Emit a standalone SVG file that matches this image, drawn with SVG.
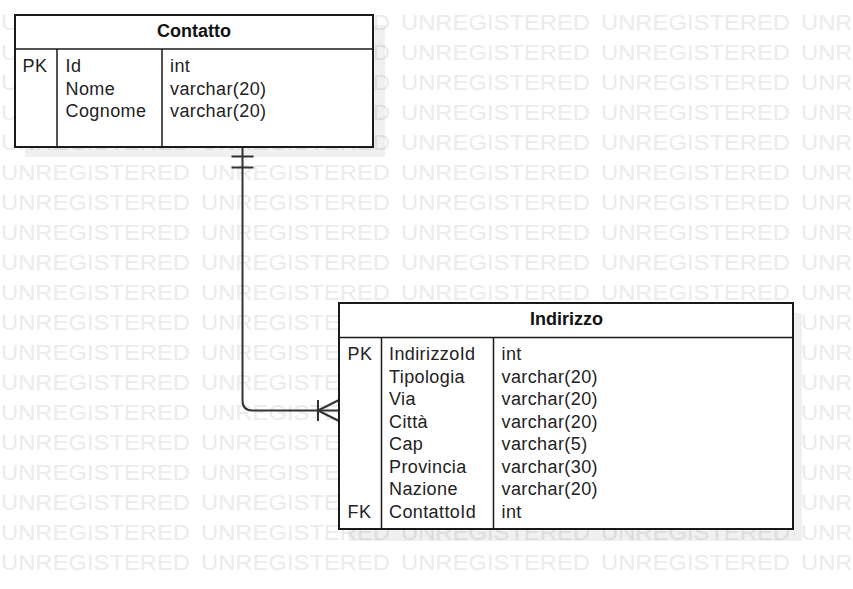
<svg xmlns="http://www.w3.org/2000/svg" xmlns:xlink="http://www.w3.org/1999/xlink" width="853" height="589" viewBox="0 0 853 589">
<style>
.wm{font-family:"Liberation Sans",Arial,sans-serif;font-size:22px;fill:#ebebeb}
.box{fill:#fff;stroke:#1a1a1a;stroke-width:2}
.shadow{fill:#000;fill-opacity:0.06}
.sep{stroke:#1a1a1a;stroke-width:1.5;fill:none}
.title{font-family:"Liberation Sans",Arial,sans-serif;font-size:18px;font-weight:bold;fill:#111;text-anchor:middle}
.t{font-family:"Liberation Sans",Arial,sans-serif;font-size:18px;fill:#222;letter-spacing:0.4px}
.conn{stroke:#333;stroke-width:2;fill:none}
</style>
<defs>
<g id="wmrow">
<text class="wm" x="1" y="29.5" textLength="189" lengthAdjust="spacingAndGlyphs">UNREGISTERED</text>
<text class="wm" x="201" y="29.5" textLength="189" lengthAdjust="spacingAndGlyphs">UNREGISTERED</text>
<text class="wm" x="401" y="29.5" textLength="189" lengthAdjust="spacingAndGlyphs">UNREGISTERED</text>
<text class="wm" x="601" y="29.5" textLength="189" lengthAdjust="spacingAndGlyphs">UNREGISTERED</text>
<text class="wm" x="801" y="29.5" textLength="189" lengthAdjust="spacingAndGlyphs">UNREGISTERED</text>
</g>
</defs>
<rect width="853" height="589" fill="#fff"/>
<g id="watermark">
<use xlink:href="#wmrow" y="0"/>
<use xlink:href="#wmrow" y="30"/>
<use xlink:href="#wmrow" y="60"/>
<use xlink:href="#wmrow" y="90"/>
<use xlink:href="#wmrow" y="120"/>
<use xlink:href="#wmrow" y="150"/>
<use xlink:href="#wmrow" y="180"/>
<use xlink:href="#wmrow" y="210"/>
<use xlink:href="#wmrow" y="240"/>
<use xlink:href="#wmrow" y="270"/>
<use xlink:href="#wmrow" y="300"/>
<use xlink:href="#wmrow" y="330"/>
<use xlink:href="#wmrow" y="360"/>
<use xlink:href="#wmrow" y="390"/>
<use xlink:href="#wmrow" y="420"/>
<use xlink:href="#wmrow" y="450"/>
<use xlink:href="#wmrow" y="480"/>
<use xlink:href="#wmrow" y="510"/>
<use xlink:href="#wmrow" y="540"/>
</g>
<g id="connectors">
<path class="conn" d="M242.5,147 V400.5 Q242.5,410.5 252.5,410.5 H339"/>
<path class="conn" d="M231.5,156.5 H253.5 M231.5,167.5 H253.5"/>
<path class="conn" d="M318,400 V421 M318,410.5 L339,400 M318,410.5 L339,421"/>
</g>
<g id="node-contatto">
<rect class="shadow" x="25" y="25" width="360" height="132"/>
<rect class="box" x="15" y="15" width="358" height="132"/>
<path class="sep" d="M15,49 H373 M57,49 V147 M162,49 V147"/>
<text class="title" x="194" y="36.5">Contatto</text>
<text class="t" x="22.5" y="72.3">PK</text>
<text class="t" x="65.5" y="72.3">Id</text>
<text class="t" x="65.5" y="94.8">Nome</text>
<text class="t" x="65.5" y="117.3">Cognome</text>
<text class="t" x="170" y="72.3">int</text>
<text class="t" x="170" y="94.8">varchar(20)</text>
<text class="t" x="170" y="117.3">varchar(20)</text>
</g>
<g id="node-indirizzo">
<rect class="shadow" x="348" y="313" width="454" height="228"/>
<rect class="box" x="339" y="303" width="454" height="226"/>
<path class="sep" d="M339,337.5 H793 M381.5,337.5 V529 M493.5,337.5 V529"/>
<text class="title" x="566.5" y="324.5">Indirizzo</text>
<text class="t" x="347.5" y="360">PK</text>
<text class="t" x="347.5" y="517.5">FK</text>
<text class="t" x="389" y="360">IndirizzoId</text>
<text class="t" x="389" y="382.5">Tipologia</text>
<text class="t" x="389" y="405">Via</text>
<text class="t" x="389" y="427.5">Città</text>
<text class="t" x="389" y="450">Cap</text>
<text class="t" x="389" y="472.5">Provincia</text>
<text class="t" x="389" y="495">Nazione</text>
<text class="t" x="389" y="517.5">ContattoId</text>
<text class="t" x="501.5" y="360">int</text>
<text class="t" x="501.5" y="382.5">varchar(20)</text>
<text class="t" x="501.5" y="405">varchar(20)</text>
<text class="t" x="501.5" y="427.5">varchar(20)</text>
<text class="t" x="501.5" y="450">varchar(5)</text>
<text class="t" x="501.5" y="472.5">varchar(30)</text>
<text class="t" x="501.5" y="495">varchar(20)</text>
<text class="t" x="501.5" y="517.5">int</text>
</g>
</svg>
